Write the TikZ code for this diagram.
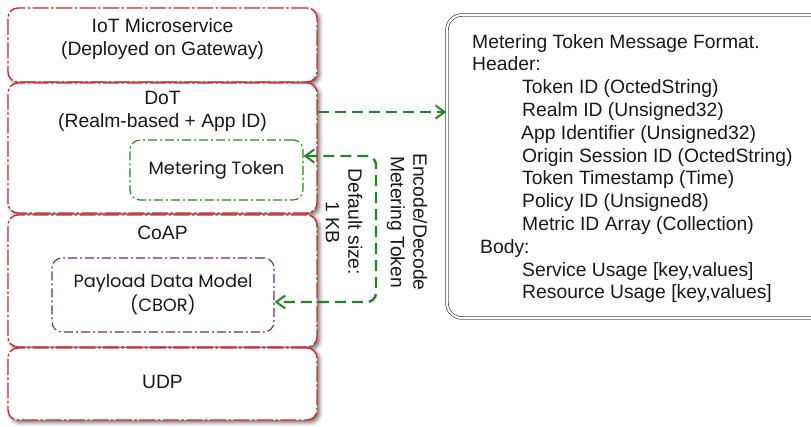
\documentclass[tikz,border=0pt]{standalone}
\usepackage{fontspec}
\setmainfont{Liberation Sans}
\newfontfamily\geo{Poppins}
\usetikzlibrary{arrows.meta,shadows.blur}
\definecolor{lred}{RGB}{214,40,44}
\definecolor{lgreen}{RGB}{34,134,34}
\definecolor{lpurple}{RGB}{112,40,110}
\definecolor{ink}{RGB}{25,25,25}
\begin{document}
\begin{tikzpicture}[x=1pt,y=-1pt,
  every node/.style={text=ink},
  txt/.style={font=\fontsize{19.3}{22.5}\selectfont, align=center, inner sep=0pt},
  geotxt/.style={font=\geo\fontsize{17.8}{24}\selectfont, align=center, inner sep=0pt},
  layer/.style={draw=lred, line width=1.4pt, rounded corners=10pt, fill=white,
     dash pattern=on 16pt off 2.5pt on 2.5pt off 2.5pt,
     blur shadow={shadow xshift=2.5pt, shadow yshift=-2.5pt, shadow blur radius=4pt, shadow opacity=60},
     inner sep=0pt},
  inbox/.style={line width=1.1pt, rounded corners=10pt, dash pattern=on 9pt off 3pt on 2pt off 3pt, inner sep=0pt},
  garrow/.style={draw=lgreen, line width=2.4pt, dash pattern=on 11pt off 6pt,
     arrows={-Straight Barb[length=9pt,width=13pt,line width=2pt]}},
]
\useasboundingbox (0,0) rectangle (811,426);
% layers
\node[layer, minimum width=309pt, minimum height=74pt] (iot) at (162.5,45) {};
\node[layer, minimum width=309pt, minimum height=130pt] (dot) at (162.5,148) {};
\node[layer, minimum width=309pt, minimum height=132pt] (coap) at (162.5,281) {};
\node[layer, minimum width=309pt, minimum height=72pt] (udp) at (162.5,384) {};
\node[txt] (iotT) at (162.5,39) {IoT Microservice\\(Deployed on Gateway)};
\node[txt] (dotT) at (162.5,111.5) {DoT\\(Realm-based + App ID)};
\node[txt] (coapT) at (162.5,233) {CoAP};
\node[txt] (udpT) at (162.5,382) {UDP};
% inner boxes
\node[inbox, draw=lgreen, minimum width=173pt, minimum height=60pt] (mt) at (216.5,170) {};
\node[geotxt] (mtT) at (216.5,170) {Metering Token};
\node[inbox, draw=lpurple, minimum width=222pt, minimum height=74pt] (pl) at (163,295) {};
\node[geotxt] (plT) at (163,295) {Payload Data Model\\(CBOR)};
% message format box
\draw[draw=black!75, line width=0.7pt, double=white, double distance=2pt, rounded corners=15pt]
  (447,15) rectangle (830,318);
\node[inner sep=0pt] (msg) at (447,166) {};
\node[txt, align=left, anchor=north west, font=\fontsize{19.3}{22.8}\selectfont] (msgT) at (472,34) {%
Metering Token Message Format.\\
Header:\\
\hspace*{50pt}Token ID (OctedString)\\
\hspace*{50pt}Realm ID (Unsigned32)\\
\hspace*{49pt}App Identifier (Unsigned32)\\
\hspace*{50pt}Origin Session ID (OctedString)\\
\hspace*{50pt}Token Timestamp (Time)\\
\hspace*{50pt}Policy ID (Unsigned8)\\
\hspace*{50pt}Metric ID Array (Collection)\\
\hspace*{8pt}Body:\\
\hspace*{50pt}Service Usage [key,values]\\
\hspace*{50pt}Resource Usage [key,values]};
% connectors
\draw[garrow] (dot.east |- 0,112) -- (msg.west |- 0,112);
\draw[garrow, arrows={Straight Barb[length=9pt,width=13pt,line width=2pt]-Straight Barb[length=9pt,width=13pt,line width=2pt]}, rounded corners=9pt]
  (mt.east |- 0,156) -- (376,156) -- (376,302) -- (pl.east |- 0,302);
% rotated labels
\node[txt, rotate=-90] (enc) at (407,222) {Encode/Decode\\Metering Token};
\node[txt, rotate=-90] (def) at (344,222) {Default size:\\1 KB};
\end{tikzpicture}
\end{document}
